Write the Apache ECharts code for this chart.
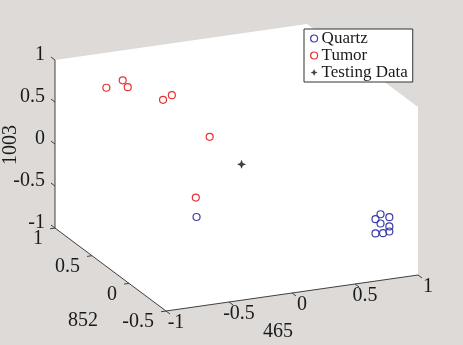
<!DOCTYPE html>
<html>
<head>
<meta charset="utf-8">
<script src="https://cdn.jsdelivr.net/npm/echarts@6/dist/echarts.min.js"></script>
<style>
html,body{margin:0;padding:0;background:#dddad7;}
#chart{width:463px;height:345px;}
</style>
</head>
<body>
<div id="chart"></div>
<script>
// ---- data (3D values: axes 465, 852, 1003) ----
const quartzX = [-0.64, 0.82, 0.89, 0.78, 0.82, 0.89, 0.89, 0.84, 0.78];
const quartzY = [-0.30, -0.30, -0.30, -0.30, -0.30, -0.30, -0.30, -0.30, -0.30];
const quartzZ = [-0.09, -0.37, -0.42, -0.42, -0.48, -0.53, -0.59, -0.60, -0.59];

const tumorX = [-0.71, -0.58, -0.54, -0.26, -0.19, 0.11, 0.00];
const tumorY = [0.80, 0.80, 0.80, 0.80, 0.80, 0.80, 0.80];
const tumorZ = [0.74, 0.80, 0.71, 0.50, 0.54, -0.02, -0.72];

const testX = [0.04];
const testY = [0.25];
const testZ = [0.03];

const xTicks = [-1, -0.5, 0, 0.5, 1];
const yTicks = [-0.5, 0, 0.5, 1];
const zTicks = [-1, -0.5, 0, 0.5, 1];
const xTickLabels = ['-1', '-0.5', '0', '0.5', '1'];
const yTickLabels = ['-0.5', '0', '0.5', '1'];
const zTickLabels = ['-1', '-0.5', '0', '0.5', '1'];
const xRange = [-1, 1];
const yRange = [-0.5, 1];
const zRange = [-1, 1];
const xName = '465';
const yName = '852';
const zName = '1003';
const seriesNames = ['Quartz', 'Tumor', 'Testing Data'];

// ---- view projection (camera) ----
const W = 463, H = 345;
const VIEW = { ox: 166, oy: 311, ex: [126, -18], ey: [-74, -55.3], ez: [0, -84] };
function proj(x, y, z) {
  const dx = x - xRange[0], dy = y - yRange[0], dz = z - zRange[0];
  return [
    VIEW.ox + VIEW.ex[0] * dx + VIEW.ey[0] * dy + VIEW.ez[0] * dz,
    VIEW.oy + VIEW.ex[1] * dx + VIEW.ey[1] * dy + VIEW.ez[1] * dz
  ];
}
function projSeries(xs, ys, zs) {
  return xs.map((x, i) => proj(x, ys[i], zs[i]));
}
function unit(v) { const l = Math.hypot(v[0], v[1]); return [v[0] / l, v[1] / l]; }

const FONT = 'Liberation Serif, Times New Roman, serif';
const INK = '#1a1a1a';
const AXC = '#404040';

function renderBox(params, api) {
  const c = p => api.coord(p);
  const x0 = xRange[0], x1 = xRange[1], y0 = yRange[0], y1 = yRange[1], z0 = zRange[0], z1 = zRange[1];
  const hex = [
    proj(x0, y1, z1), proj(x1, y1, z1), proj(x1, y0, z1),
    proj(x1, y0, z0), proj(x0, y0, z0), proj(x0, y1, z0)
  ].map(c);
  const children = [];
  children.push({ type: 'polygon', shape: { points: hex }, style: { fill: '#ffffff', stroke: null } });
  const line = (a, b) => children.push({ type: 'line', shape: { x1: a[0], y1: a[1], x2: b[0], y2: b[1] }, style: { stroke: AXC, lineWidth: 1 } });
  const text = (t, p, align, vAlign, rot) => children.push({
    type: 'text', x: p[0], y: p[1], rotation: rot || 0,
    style: { text: t, fill: INK, font: '20px ' + FONT, align: align, verticalAlign: vAlign }
  });
  // axis lines
  line(c(proj(x0, y1, z0)), c(proj(x0, y1, z1)));   // z axis
  line(c(proj(x0, y1, z0)), c(proj(x0, y0, z0)));   // y axis
  line(c(proj(x0, y0, z0)), c(proj(x1, y0, z0)));   // x axis
  const TL = 5;
  // x ticks: outward along -y
  const dX = unit([-VIEW.ey[0], -VIEW.ey[1]]);
  xTicks.forEach((t, i) => {
    const p = c(proj(t, y0, z0));
    line(p, [p[0] + dX[0] * TL, p[1] + dX[1] * TL]);
    text(xTickLabels[i], [p[0] + 10, p[1] + 12], 'center', 'middle');
  });
  // y ticks: outward along -x
  const dY = unit([-VIEW.ex[0], -VIEW.ex[1]]);
  yTicks.forEach((t, i) => {
    const p = c(proj(x0, t, z0));
    line(p, [p[0] + dY[0] * TL, p[1] + dY[1] * TL]);
    text(yTickLabels[i], [p[0] - 12, p[1] + 11], 'right', 'middle');
  });
  // z ticks: outward along +y
  const dZ = unit([VIEW.ey[0], VIEW.ey[1]]);
  zTicks.forEach((t, i) => {
    const p = c(proj(x0, y1, t));
    line(p, [p[0] + dZ[0] * TL, p[1] + dZ[1] * TL]);
    text(zTickLabels[i], [p[0] - 10, p[1] - 5], 'right', 'middle');
  });
  // axis names
  text(zName, c([11, 145]), 'center', 'middle', Math.PI / 2);
  text(yName, c([83, 321]), 'center', 'middle');
  text(xName, c([278, 332]), 'center', 'middle');
  return { type: 'group', children: children };
}

const STAR = 'path://M0,-10 L3,-3 L10,0 L3,3 L0,10 L-3,3 L-10,0 L-3,-3 Z';

const chart = echarts.init(document.getElementById('chart'), null, { renderer: 'canvas' });
chart.setOption({
  backgroundColor: '#dddad7',
  animation: false,
  grid: { left: 0, right: 0, top: 0, bottom: 0 },
  xAxis: { type: 'value', min: 0, max: W, show: false },
  yAxis: { type: 'value', min: 0, max: H, inverse: true, show: false },
  legend: {
    orient: 'vertical', left: 304, top: 29,
    data: [
      { name: seriesNames[0], icon: 'circle', itemStyle: { color: 'rgba(0,0,0,0)', borderColor: '#3c3caa', borderWidth: 1.2 } },
      { name: seriesNames[1], icon: 'circle', itemStyle: { color: 'rgba(0,0,0,0)', borderColor: '#e63232', borderWidth: 1.2 } },
      { name: seriesNames[2], icon: STAR, itemStyle: { color: '#111', borderWidth: 0 } }
    ],
    backgroundColor: '#ffffff', borderColor: '#333', borderWidth: 1, borderRadius: 0,
    padding: [1, 5, 1, 6], itemGap: 0, itemWidth: 7, itemHeight: 7,
    textStyle: { fontFamily: FONT, fontSize: 17, color: INK, padding: [0, 0, 0, -1] },
    selectedMode: false
  },
  series: [
    { type: 'custom', name: 'box', z: 1, silent: true, renderItem: renderBox, data: [[0, 0]] },
    {
      type: 'scatter', name: seriesNames[0], z: 3, symbol: 'circle', symbolSize: 7,
      itemStyle: { color: 'rgba(0,0,0,0)', borderColor: '#3c3caa', borderWidth: 1.2, opacity: 1 },
      data: projSeries(quartzX, quartzY, quartzZ)
    },
    {
      type: 'scatter', name: seriesNames[1], z: 3, symbol: 'circle', symbolSize: 7,
      itemStyle: { color: 'rgba(0,0,0,0)', borderColor: '#e63232', borderWidth: 1.2, opacity: 1 },
      data: projSeries(tumorX, tumorY, tumorZ)
    },
    {
      type: 'scatter', name: seriesNames[2], z: 3, symbol: STAR, symbolSize: 9,
      itemStyle: { color: '#111' },
      data: projSeries(testX, testY, testZ)
    }
  ]
});
</script>
</body>
</html>
